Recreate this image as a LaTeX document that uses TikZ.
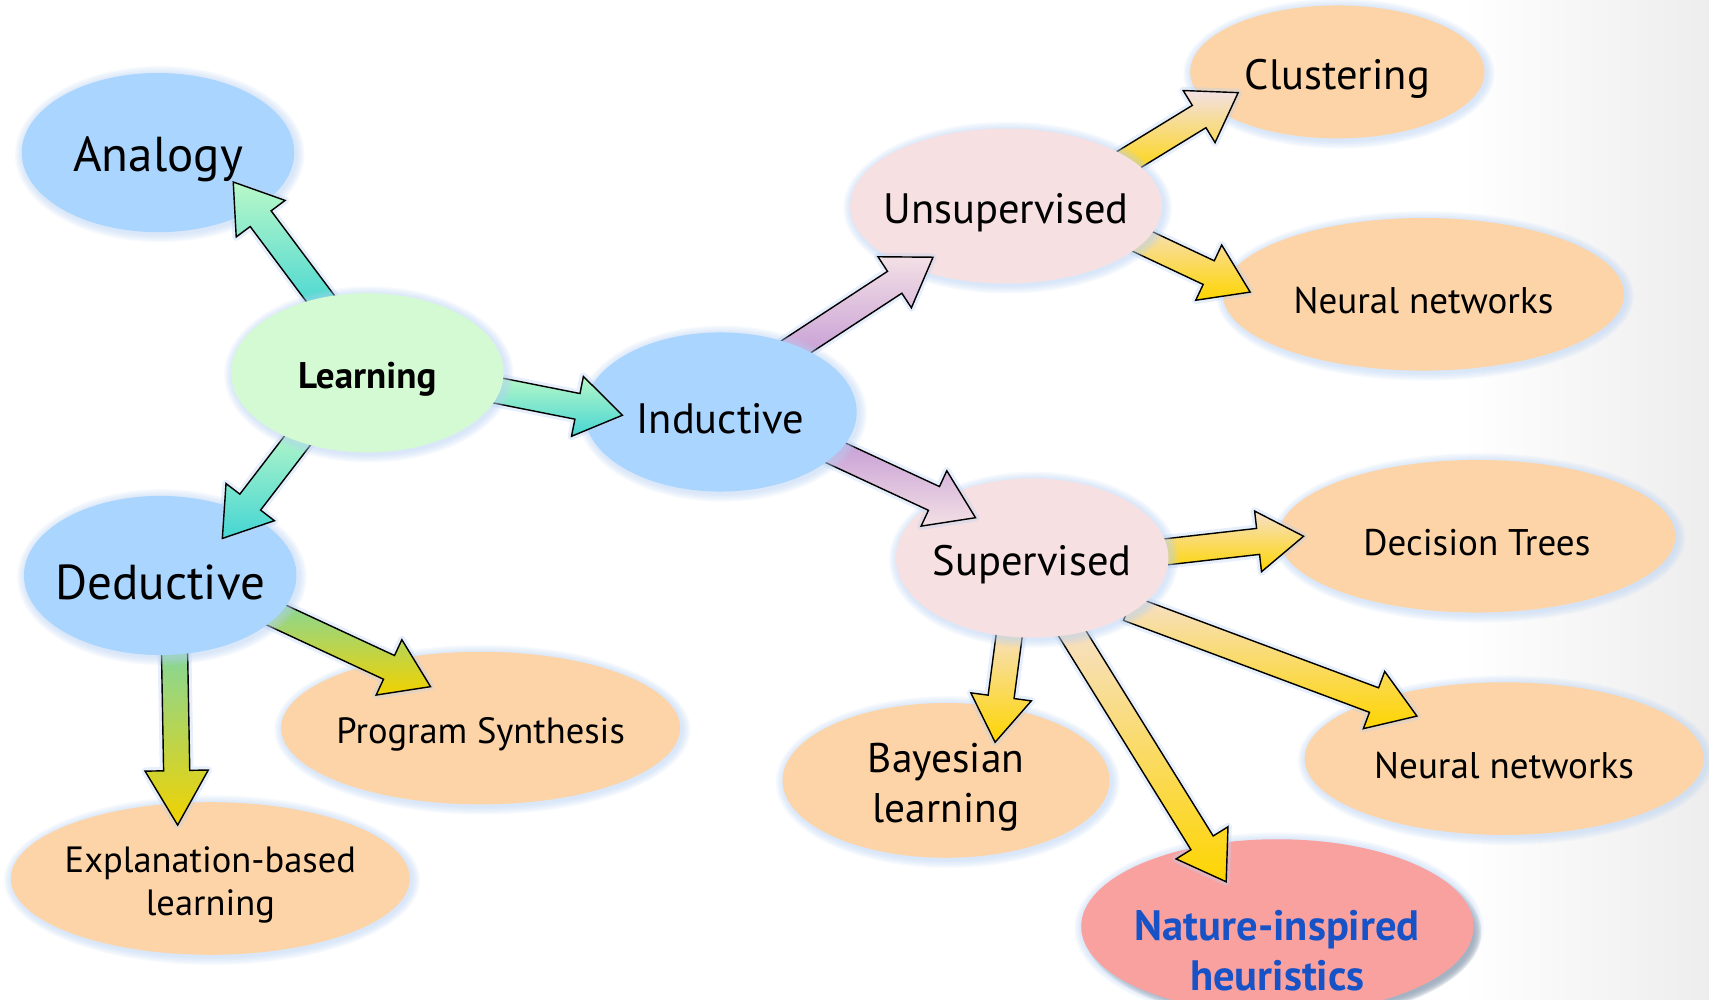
\documentclass[tikz,border=0pt]{standalone}
\usepackage{fontspec}
\setmainfont{PT Sans}
\usetikzlibrary{shapes.geometric,calc}

\definecolor{bluefill}{HTML}{A9D5FE}
\definecolor{greenfill}{HTML}{D4FAD4}
\definecolor{pinkfill}{HTML}{F7E0E1}
\definecolor{peachfill}{HTML}{FDD4A8}
\definecolor{salmonfill}{HTML}{F9A19F}
\definecolor{glowc}{HTML}{B9D3F5}
\definecolor{navytext}{HTML}{1753C6}
\definecolor{mintpale}{HTML}{B9F8C8}
\definecolor{turq}{HTML}{45D5D3}
\definecolor{lilac}{HTML}{C399D4}
\definecolor{blush}{HTML}{F3E0E5}
\definecolor{gold}{HTML}{FED500}
\definecolor{cream}{HTML}{F6E0CC}
\definecolor{leafgreen}{HTML}{80D7A0}
\definecolor{mustard}{HTML}{F2D200}

\pgfdeclarelayer{backdrop}
\pgfdeclarelayer{outer}
\pgfdeclarelayer{arrowsC}
\pgfdeclarelayer{inner}
\pgfdeclarelayer{arrowsB}
\pgfdeclarelayer{middle}
\pgfdeclarelayer{arrowsA}
\pgfsetlayers{backdrop,outer,arrowsC,inner,arrowsB,middle,arrowsA,main}

\tikzset{
  arrow shaft/.code={\def\arrshaft{#1pt}},
  arrow wing/.code={\def\arrwing{#1pt}},
  arrow head/.code={\def\arrhead{#1pt}},
  arrowbody/.style={draw=black, line width=1.3pt, line join=miter},
  arrowglow/.style={draw=glowc, line width=7pt, opacity=0.35, line join=round},
  bubblebase/.style={ellipse, inner sep=0pt, outer sep=0pt},
  lbl/.style={yshift=-6pt},
  fsA/.style={lbl, font=\fontsize{45}{52}\selectfont},
  fsB/.style={lbl, font=\fontsize{39}{46}\selectfont},
  fsC/.style={lbl, font=\fontsize{34}{40}\selectfont},
  fsD/.style={lbl, font=\fontsize{33.5}{40}\selectfont, align=center},
  fsE/.style={lbl, font=\fontsize{38}{46}\selectfont, align=center},
}

% #1 layer, #2 name, #3 centre, #4 x radius, #5 y radius, #6 fill, #7 text style, #8 text
\newcommand\bubble[8]{%
  \begin{pgfonlayer}{#1}
    \foreach \g in {1,...,6}{%
      \fill[glowc, opacity=0.11] ($(#3)+(1.5,1.5)$) ellipse [x radius={#4+\g*1.3}, y radius={#5+\g*1.3}];}
    \node[bubblebase, fill=#6, minimum width={2*#4}, minimum height={2*#5},
          label={[name=#2-t, #7]center:{#8}}] (#2) at (#3) {};
  \end{pgfonlayer}}

% #1 layer, #2 tail, #3 tip, #4 top colour, #5 bottom colour, #6 geometry
\newcommand\blockarrow[6]{%
  \begin{pgfonlayer}{#1}
    \tikzset{arrow shaft=12, arrow wing=28, arrow head=42, #6}
    \coordinate (ba-a) at (#2);
    \coordinate (ba-b) at (#3);
    \coordinate (ba-c) at ($(ba-b)!\arrhead!(ba-a)$);
    \def\arrpath{($(ba-a)!\arrshaft!90:(ba-b)$) -- ($(ba-c)!\arrshaft!90:(ba-b)$)
      -- ($(ba-c)!\arrwing!90:(ba-b)$) -- (ba-b) -- ($(ba-c)!\arrwing!-90:(ba-b)$)
      -- ($(ba-c)!\arrshaft!-90:(ba-b)$) -- ($(ba-a)!\arrshaft!-90:(ba-b)$) -- cycle}
    \path[arrowglow] \arrpath;
    \path[arrowbody, top color=#4, bottom color=#5] \arrpath;
  \end{pgfonlayer}}

\begin{document}
\begin{tikzpicture}[x=1pt, y=-1pt]
  \useasboundingbox (0,0) rectangle (1568,917);

  % page background
  \begin{pgfonlayer}{backdrop}
    \fill[white] (0,0) rectangle (1568,917);
    \shade[left color=white, right color=black!7] (1340,0) rectangle (1568,917);
  \end{pgfonlayer}

  % outer ring of topics
  \bubble{outer}{analogy}{145,140}{125}{73}{bluefill}{fsA}{Analogy}
  \bubble{outer}{clust}{1227,66}{135}{61}{peachfill}{fsB}{Clustering}
  \bubble{outer}{nnA}{1306,270}{184}{70}{peachfill}{fsC}{Neural networks}
  \bubble{outer}{dtree}{1355,492}{182}{70}{peachfill}{fsC}{Decision Trees}
  \bubble{outer}{nnB}{1380,696}{183}{70}{peachfill}{fsC}{Neural networks}
  \bubble{outer}{bayes}{868,716}{150}{71}{peachfill}{fsE}{Bayesian\\learning}
  \bubble{outer}{prog}{441,668}{183}{70}{peachfill}{fsD}{Program Synthesis}
  \bubble{outer}{expl}{193,806}{183}{70}{peachfill}{fsD}{Explanation-based\\learning}

  % highlighted topic with a drop shadow
  \begin{pgfonlayer}{outer}
    \foreach \g in {0,...,4}{%
      \fill[black, opacity=0.10] (1177,855) ellipse [x radius={182-\g*1.5}, y radius={82-\g*1.5}];}
  \end{pgfonlayer}
  \bubble{outer}{nature}{1172,850}{180}{80}{salmonfill}{align=center, font=\bfseries\fontsize{39}{46}\selectfont, text=navytext, yshift=-22pt}{Nature-inspired\\heuristics}

  % second level
  \bubble{inner}{unsup}{923,189}{143}{71}{pinkfill}{fsB}{Unsupervised}
  \bubble{inner}{sup}{947,512}{125}{73}{pinkfill}{fsB}{Supervised}

  % first level
  \bubble{middle}{induct}{661,378}{125}{73}{bluefill}{fsB}{Inductive}
  \bubble{middle}{deduct}{147,528}{125}{73}{bluefill}{fsA}{Deductive}

  % root
  \bubble{main}{learn}{337,342}{125}{73}{greenfill}{lbl, font=\bfseries\fontsize{34}{40}\selectfont}{Learning}

  % arrows out of the root
  \blockarrow{arrowsA}{$(learn)+(-37,-60)$}{$(analogy)+(69,27)$}{mintpale}{turq}{}
  \blockarrow{arrowsA}{$(learn)+(108,14)$}{$(induct)+(-90,3)$}{mintpale}{turq}{}
  \blockarrow{arrowsA}{$(learn)+(-57,53)$}{$(deduct)+(57,-34)$}{mintpale}{turq}{}

  % arrows out of the first level
  \blockarrow{arrowsB}{$(induct)+(59,-53)$}{$(unsup)+(-67,47)$}{blush}{lilac}{}
  \blockarrow{arrowsB}{$(induct)+(94,32)$}{$(sup)+(-52,-37)$}{lilac}{blush}{}
  \blockarrow{arrowsB}{$(deduct)+(93,30)$}{$(prog)+(-46,-38)$}{leafgreen}{mustard}{}
  \blockarrow{arrowsB}{$(deduct)+(13,62)$}{$(expl)+(-30,-49)$}{leafgreen}{mustard}{arrow wing=29, arrow head=50}

  % arrows out of the second level
  \blockarrow{arrowsC}{$(unsup)+(102,-36)$}{$(clust)+(-91,19)$}{blush}{gold}{}
  \blockarrow{arrowsC}{$(unsup)+(107,24)$}{$(nnA)+(-159,-2)$}{cream}{gold}{}
  \blockarrow{arrowsC}{$(sup)+(108,-4)$}{$(dtree)+(-159,0)$}{cream}{gold}{}
  \blockarrow{arrowsC}{$(sup)+(88,46)$}{$(nnB)+(-80,-39)$}{cream}{gold}{}
  \blockarrow{arrowsC}{$(sup)+(-20,63)$}{$(bayes)+(45,-35)$}{cream}{gold}{}
  \blockarrow{arrowsC}{$(sup)+(33,63)$}{$(nature)+(-47,-41)$}{cream}{gold}{}
\end{tikzpicture}
\end{document}
